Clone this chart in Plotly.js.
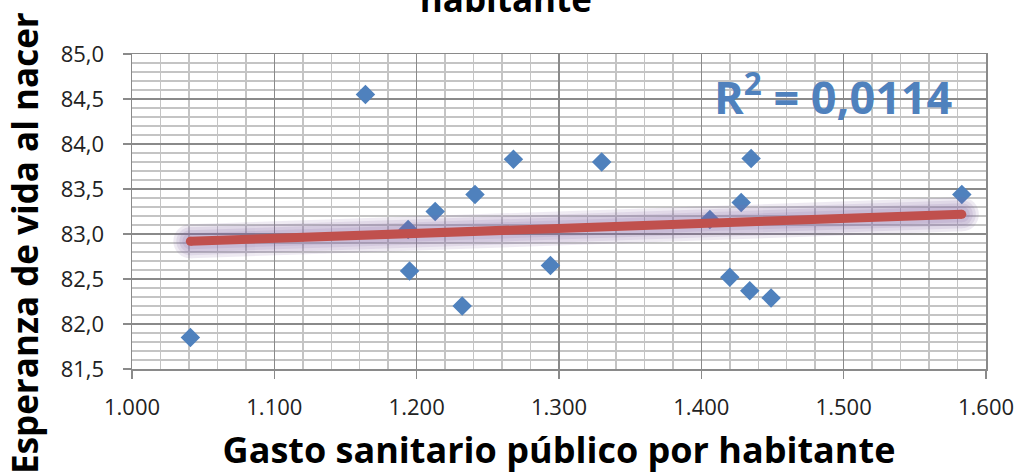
<!DOCTYPE html>
<html>
<head>
<meta charset="utf-8">
<script src="https://cdn.plot.ly/plotly-3.0.1.min.js"></script>
<style>html,body{margin:0;padding:0;background:#fff;}#chart{width:1022px;height:474px;}</style>
</head>
<body>
<div id="chart"></div>
<script>
// Gasto sanitario público por habitante (euros)
const gasto = [1041, 1164, 1194, 1195, 1213, 1232, 1241, 1268, 1294, 1330, 1406, 1420, 1428, 1434, 1435, 1449, 1583];
// Esperanza de vida al nacer (años)
const esperanza = [81.85, 84.55, 83.05, 82.59, 83.25, 82.20, 83.44, 83.83, 82.65, 83.80, 83.16, 82.52, 83.35, 82.37, 83.84, 82.29, 83.44];
const r2Label = "R<sup>2</sup> = 0,0114";
const titleText = "habitante";
const xTitle = "Gasto sanitario público por habitante";
const yTitle = "Esperanza de vida al nacer";

// least-squares trend line
const n = gasto.length;
const mx = gasto.reduce((a, b) => a + b, 0) / n;
const my = esperanza.reduce((a, b) => a + b, 0) / n;
let sxy = 0, sxx = 0;
for (let i = 0; i < n; i++) { sxy += (gasto[i] - mx) * (esperanza[i] - my); sxx += (gasto[i] - mx) ** 2; }
const slope = sxy / sxx, icpt = my - slope * mx;
const tx = [Math.min(...gasto), Math.max(...gasto)];
const ty = tx.map(v => icpt + slope * v);

const traces = [{
  x: gasto, y: esperanza, type: 'scatter', mode: 'markers',
  marker: {symbol: 'diamond', size: 15, color: '#4F81BD'},
  hoverinfo: 'skip', showlegend: false
}];
[34, 28, 22, 16].forEach(w => traces.push({
  x: tx, y: ty, type: 'scatter', mode: 'lines+markers', opacity: 0.13,
  line: {color: '#8064A2', width: w}, marker: {color: '#8064A2', size: w, symbol: 'circle'},
  hoverinfo: 'skip', showlegend: false
}));
traces.push({
  x: tx, y: ty, type: 'scatter', mode: 'lines+markers',
  line: {color: '#C0504D', width: 9}, marker: {color: '#C0504D', size: 9, symbol: 'circle'},
  hoverinfo: 'skip', showlegend: false
});

const tickFont = {family: 'Open Sans, sans-serif', size: 22, color: '#222'};

const layout = {
  width: 1022, height: 474,
  separators: ',.',
  margin: {l: 132, r: 36, t: 54, b: 105},
  paper_bgcolor: '#fff', plot_bgcolor: '#fff',
  showlegend: false,
  title: {text: '<b>' + titleText + '</b>', x: 0.495, xanchor: 'center', y: 1, yref: 'container', yanchor: 'middle',
          font: {family: 'Open Sans, sans-serif', size: 35, color: '#000'}},
  xaxis: {
    range: [1000, 1600], dtick: 100, tick0: 1000, tickformat: ',.0f',
    showgrid: true, gridcolor: '#8a8a8a', gridwidth: 1.5,
    minor: {dtick: 20, showgrid: true, gridcolor: '#c4c4c4', gridwidth: 1.5},
    showline: true, linecolor: '#8a8a8a', linewidth: 1.5, mirror: true,
    ticks: 'outside', ticklen: 8, tickcolor: '#8a8a8a', tickwidth: 1.5,
    tickfont: tickFont, ticklabelstandoff: 10,
    zeroline: false, fixedrange: true,
    title: {text: '<b>' + xTitle + '</b>', font: {family: 'Open Sans, sans-serif', size: 36, color: '#000'}, standoff: 18}
  },
  yaxis: {
    range: [81.5, 85.0], dtick: 0.5, tick0: 81.5, tickformat: '.1f',
    showgrid: true, gridcolor: '#8a8a8a', gridwidth: 1.5,
    minor: {dtick: 0.1, showgrid: true, gridcolor: '#c4c4c4', gridwidth: 1.5},
    showline: true, linecolor: '#8a8a8a', linewidth: 1.5, mirror: true,
    ticks: 'outside', ticklen: 8, tickcolor: '#8a8a8a', tickwidth: 1.5,
    tickfont: tickFont, ticklabelstandoff: 14,
    zeroline: false, fixedrange: true
  },
  annotations: [
    {text: '<b>' + yTitle + '</b>', textangle: -90, xref: 'paper', yref: 'paper',
     x: -0.1265, y: 0.4, xanchor: 'center', yanchor: 'middle', showarrow: false,
     font: {family: 'Open Sans, sans-serif', size: 35, color: '#000'}},
    {text: '<b>' + r2Label + '</b>', xref: 'paper', yref: 'paper', x: 0.962, y: 0.873,
     xanchor: 'right', yanchor: 'middle', showarrow: false,
     font: {family: 'Open Sans, sans-serif', size: 45, color: '#4F81BD'}}
  ]
};

Plotly.newPlot('chart', traces, layout, {displayModeBar: false, staticPlot: true});
</script>
</body>
</html>
